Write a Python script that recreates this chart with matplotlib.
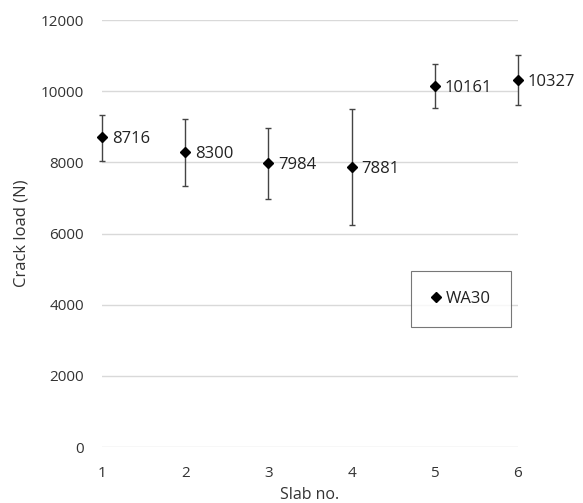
import matplotlib
matplotlib.use("Agg")
import matplotlib.pyplot as plt

slabs = [1, 2, 3, 4, 5, 6]
crack_load = [8716, 8300, 7984, 7881, 10161, 10327]
err_low = [670, 960, 1000, 1650, 620, 710]
err_high = [620, 920, 990, 1610, 600, 690]
yticks = [0, 2000, 4000, 6000, 8000, 10000, 12000]
series_name = "WA30"

plt.rcParams['font.family'] = ['Open Sans', 'DejaVu Sans']

fig = plt.figure(figsize=(5.83, 5.03), dpi=100)
ax = fig.add_axes([0.175, 0.1113, 0.7135, 0.8487])

ax.set_xlim(1, 6)
ax.set_ylim(0, 12000)
ax.set_yticks(yticks)
ax.set_xticks(slabs)
ax.grid(axis='y', color='#d9d9d9', linewidth=1)
ax.set_axisbelow(True)
for s in ax.spines.values():
    s.set_visible(False)
ax.tick_params(length=0, labelsize=11, colors='#333333')
ax.tick_params(axis='x', pad=14)
ax.tick_params(axis='y', pad=13)

ax.errorbar(slabs, crack_load, yerr=[err_low, err_high], fmt='none',
            ecolor='#444444', elinewidth=1, capsize=2.5, capthick=1,
            clip_on=False, zorder=3)
ax.plot(slabs, crack_load, 'D', color='black', markersize=5,
        label=series_name, clip_on=False, zorder=4)

for x, y in zip(slabs, crack_load):
    ax.annotate(f"{y}", (x, y), xytext=(7, -1.5), textcoords='offset points',
                ha='left', va='center', fontsize=12, color='#222222',
                annotation_clip=False)

ax.set_ylabel("Crack load (N)", fontsize=12, color='#333333', labelpad=8)
ax.set_xlabel("Slab no.", fontsize=11.5, color='#333333', labelpad=4)

leg = ax.legend(loc='center', bbox_to_anchor=(0.791, 0.405),
                bbox_transform=fig.transFigure, frameon=True, fancybox=False,
                fontsize=12, handlelength=0.6, handletextpad=0.3,
                borderpad=1.2, borderaxespad=0)
leg.get_frame().set_edgecolor('#555555')
leg.get_frame().set_linewidth(0.8)
for t in leg.get_texts():
    t.set_color('#222222')

fig.savefig("out.png", dpi=100)
